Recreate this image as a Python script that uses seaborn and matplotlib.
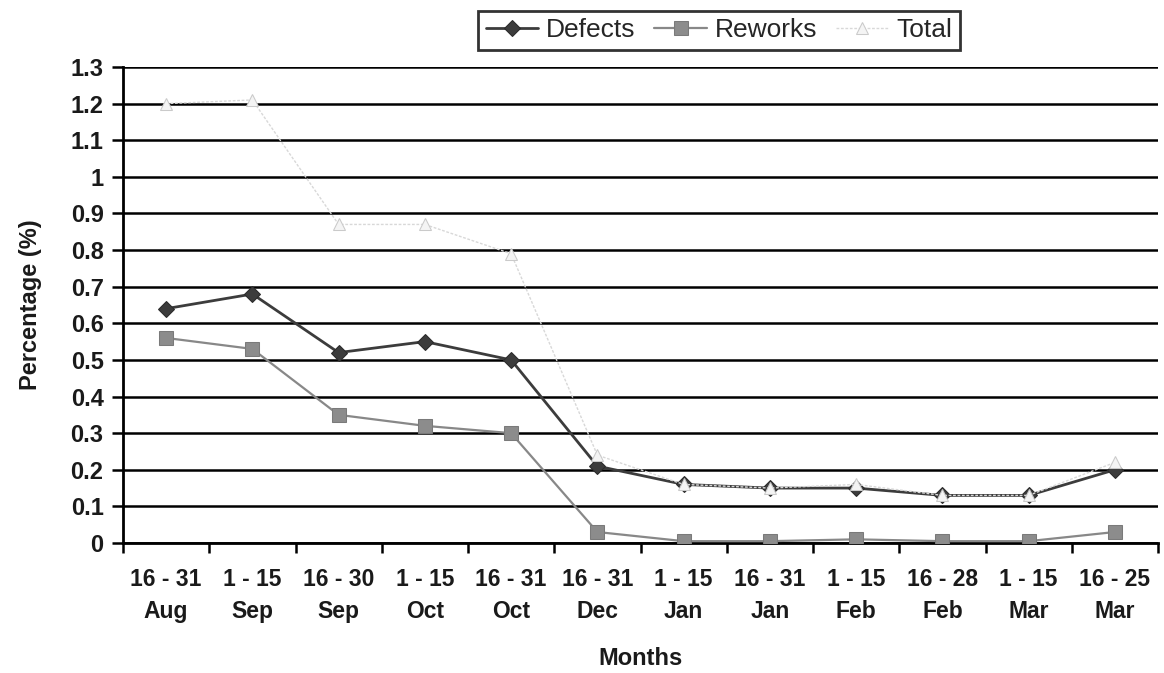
import numpy as np
import pandas as pd
import matplotlib
matplotlib.use("Agg")
import matplotlib.pyplot as plt
import seaborn as sns

# ---- data ----
categories = ["16 - 31\nAug", "1 - 15\nSep", "16 - 30\nSep", "1 - 15\nOct", "16 - 31\nOct",
              "16 - 31\nDec", "1 - 15\nJan", "16 - 31\nJan", "1 - 15\nFeb", "16 - 28\nFeb",
              "1 - 15\nMar", "16 - 25\nMar"]
defects = [0.64, 0.68, 0.52, 0.55, 0.50, 0.21, 0.16, 0.15, 0.15, 0.13, 0.13, 0.20]
reworks = [0.56, 0.53, 0.35, 0.32, 0.30, 0.03, 0.005, 0.005, 0.01, 0.005, 0.005, 0.03]
total = [1.20, 1.21, 0.87, 0.87, 0.79, 0.24, 0.16, 0.15, 0.16, 0.13, 0.13, 0.22]
series_names = ["Defects", "Reworks", "Total"]
y_ticks = [0.0, 0.1, 0.2, 0.3, 0.4, 0.5, 0.6, 0.7, 0.8, 0.9, 1.0, 1.1, 1.2, 1.3]
x_title = "Months"
y_title = "Percentage (%)"

sns.set_theme(style="white")
plt.rcParams["font.family"] = ["Liberation Sans", "DejaVu Sans"]

fig = plt.figure(figsize=(11.64, 6.73), dpi=100)
ax = fig.add_axes([123 / 1164, 1 - 543 / 673, (1158 - 123) / 1164, (543 - 67) / 673])

pos = np.arange(len(categories))
df = pd.DataFrame({"pos": pos, "Defects": defects, "Reworks": reworks, "Total": total})

styles = {
    "Defects": dict(color="#3c3c3c", marker="D", markersize=8, linewidth=2.0,
                    markerfacecolor="#3c3c3c", markeredgecolor="#2a2a2a", linestyle="-", zorder=4),
    "Reworks": dict(color="#888888", marker="s", markersize=10, linewidth=1.6,
                    markerfacecolor="#8c8c8c", markeredgecolor="#7a7a7a", linestyle="-", zorder=3),
    "Total": dict(color="#d8d8d8", marker="^", markersize=9, linewidth=1.0,
                  markerfacecolor="#f4f4f4", markeredgecolor="#cacaca", linestyle=(0, (2, 1.2)), zorder=5),
}
for name in series_names:
    st = dict(styles[name])
    z = st.pop("zorder")
    sns.lineplot(data=df, x="pos", y=name, ax=ax, label=name, zorder=z, **st)

# axes formatting
ax.set_xlim(-0.5, len(categories) - 0.5)
ax.set_ylim(0, 1.3)
ax.set_yticks(y_ticks)
ax.set_yticklabels([f"{v:g}" for v in y_ticks], fontsize=17, fontweight="bold", color="#1a1a1a")
ax.yaxis.grid(True, color="#000000", linewidth=1.8, zorder=1)
ax.set_axisbelow(True)

ax.set_xticks(np.arange(-0.5, len(categories), 1.0))
ax.set_xticklabels([])
ax.set_xticks(pos, minor=True)
ax.set_xticklabels(categories, minor=True, fontsize=16.5, fontweight="bold",
                   color="#1a1a1a", linespacing=1.5)
ax.tick_params(axis="x", which="major", direction="out", length=7, width=1.8, color="#000000", bottom=True)
ax.tick_params(axis="x", which="minor", length=0, pad=18)
ax.tick_params(axis="y", which="major", direction="out", length=8, width=1.8, color="#000000", left=True, pad=6)

for s in ["top", "right"]:
    ax.spines[s].set_visible(False)
for s in ["left", "bottom"]:
    ax.spines[s].set_visible(True)
    ax.spines[s].set_color("#000000")
    ax.spines[s].set_linewidth(2.0)

ax.set_xlabel(x_title, fontsize=17, fontweight="bold", color="#1a1a1a")
ax.xaxis.set_label_coords(0.5, -0.218)
ax.set_ylabel(y_title, fontsize=17, fontweight="bold", color="#1a1a1a")
ax.yaxis.set_label_coords(-0.078, 0.5)

ax.get_legend().remove()
handles, labels = ax.get_legend_handles_labels()
leg = fig.legend(handles, labels, loc="upper center", bbox_to_anchor=(719 / 1164, 1.004),
                 ncol=3, frameon=True, fancybox=False, shadow=False, fontsize=19,
                 handlelength=2.0, handletextpad=0.3, columnspacing=0.7, borderpad=0.3)
leg.get_frame().set_edgecolor("#000000")
leg.get_frame().set_linewidth(2.0)

fig.savefig("out.png", dpi=100, facecolor="white")
